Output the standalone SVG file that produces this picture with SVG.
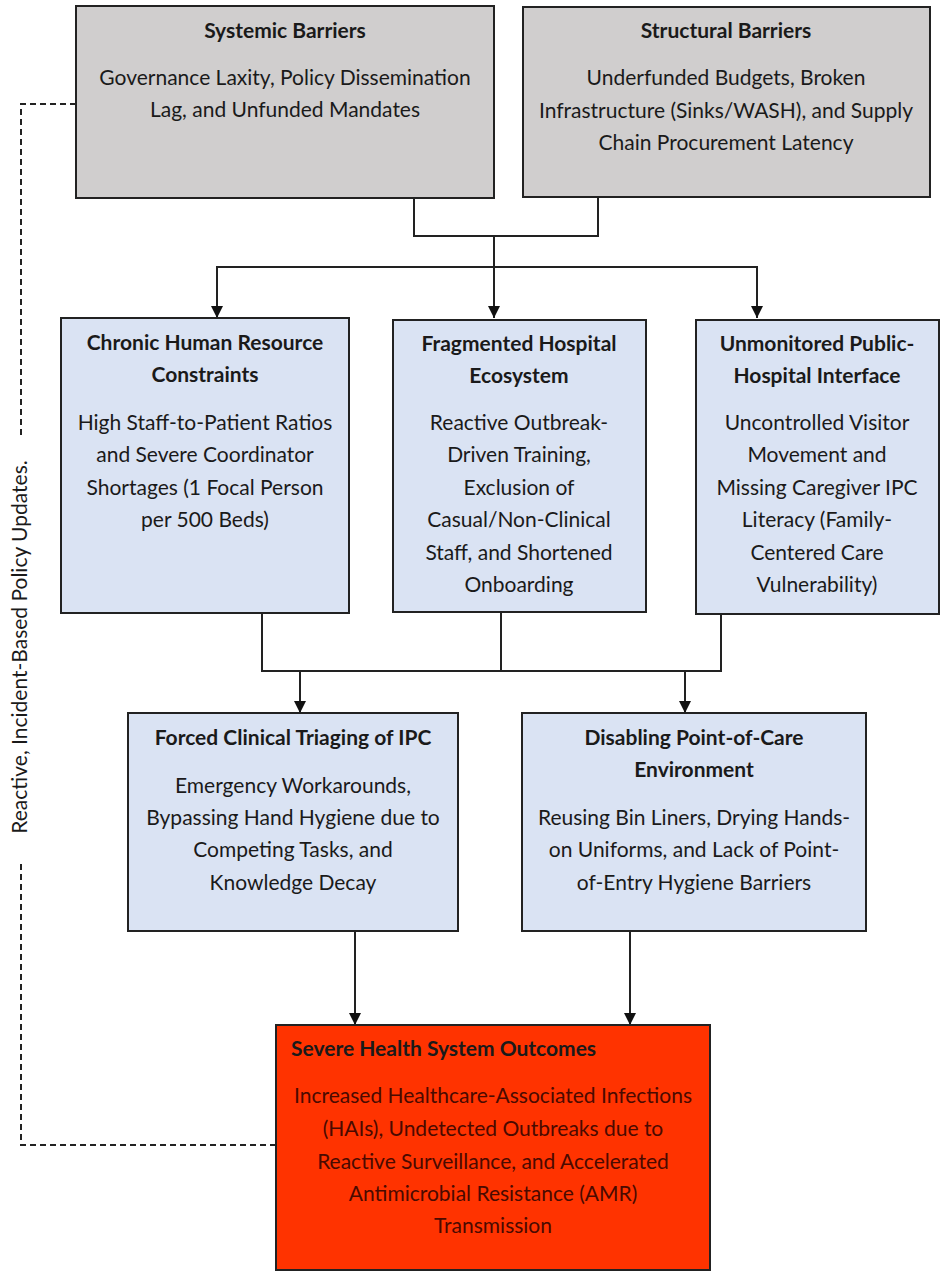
<svg xmlns="http://www.w3.org/2000/svg" width="945" height="1280" viewBox="0 0 945 1280">
<style>
.box{stroke:#222;stroke-width:2}
.grey{fill:#d0cece}
.blue{fill:#dae3f3}
.red{fill:#ff3300}
text{font-family:Lato,"Liberation Sans",sans-serif;font-size:21px;fill:#1a1a1a;text-anchor:middle;dominant-baseline:central}
.t{font-weight:bold}
.rt{fill:#4a0a00}
.ln{fill:none;stroke:#222;stroke-width:2}
.dash{fill:none;stroke:#222;stroke-width:2;stroke-dasharray:6 4}
</style>
<defs>
<marker id="ah" viewBox="0 0 10 10" refX="10" refY="5" markerWidth="6" markerHeight="6" orient="auto" markerUnits="strokeWidth">
<path d="M0,0 L10,5 L0,10 Z" fill="#111"/>
</marker>
</defs>
<g id="connectors">
<polyline class="ln" points="414,198 414,236 598,236 598,197"/>
<line class="ln" x1="494" y1="236" x2="494" y2="318" marker-end="url(#ah)"/>
<polyline class="ln" points="217,318 217,267 757,267 757,318" marker-end="url(#ah)"/>
<path class="ln" d="M217,267 L217,318" marker-end="url(#ah)"/>
<polyline class="ln" points="262,613 262,671 721,671 721,614"/>
<line class="ln" x1="501" y1="612" x2="501" y2="671"/>
<line class="ln" x1="300" y1="671" x2="300" y2="713" marker-end="url(#ah)"/>
<line class="ln" x1="685" y1="671" x2="685" y2="713" marker-end="url(#ah)"/>
<line class="ln" x1="355" y1="931" x2="355" y2="1025" marker-end="url(#ah)"/>
<line class="ln" x1="630" y1="931" x2="630" y2="1025" marker-end="url(#ah)"/>
<polyline class="dash" points="76,104 21,104 21,438"/>
<polyline class="dash" points="21,864 21,1145 276,1145"/>
<text x="18" y="647" transform="rotate(-90 18 647)">Reactive, Incident-Based Policy Updates.</text>
</g>
<g id="systemic">
<rect class="box grey" x="76" y="6" width="418" height="192"/>
<text class="t" x="285" y="29">Systemic Barriers</text>
<text x="285" y="76">Governance Laxity, Policy Dissemination</text>
<text x="285" y="108">Lag, and Unfunded Mandates</text>
</g>
<g id="structural">
<rect class="box grey" x="523" y="7" width="407" height="190"/>
<text class="t" x="726" y="29">Structural Barriers</text>
<text x="726" y="76">Underfunded Budgets, Broken</text>
<text x="726" y="109">Infrastructure (Sinks/WASH), and Supply</text>
<text x="726" y="141">Chain Procurement Latency</text>
</g>
<g id="chronic">
<rect class="box blue" x="61" y="318" width="288" height="295"/>
<text class="t" x="205" y="341">Chronic Human Resource</text>
<text class="t" x="205" y="373">Constraints</text>
<text x="205" y="421">High Staff-to-Patient Ratios</text>
<text x="205" y="453">and Severe Coordinator</text>
<text x="205" y="486">Shortages (1 Focal Person</text>
<text x="205" y="518">per 500 Beds)</text>
</g>
<g id="fragmented">
<rect class="box blue" x="393" y="320" width="253" height="292"/>
<text class="t" x="519" y="342">Fragmented Hospital</text>
<text class="t" x="519" y="374">Ecosystem</text>
<text x="519" y="421">Reactive Outbreak-</text>
<text x="519" y="453">Driven Training,</text>
<text x="519" y="486">Exclusion of</text>
<text x="519" y="518">Casual/Non-Clinical</text>
<text x="519" y="551">Staff, and Shortened</text>
<text x="519" y="583">Onboarding</text>
</g>
<g id="unmonitored">
<rect class="box blue" x="696" y="320" width="243" height="294"/>
<text class="t" x="817" y="342">Unmonitored Public-</text>
<text class="t" x="817" y="374">Hospital Interface</text>
<text x="817" y="421">Uncontrolled Visitor</text>
<text x="817" y="453">Movement and</text>
<text x="817" y="486">Missing Caregiver IPC</text>
<text x="817" y="518">Literacy (Family-</text>
<text x="817" y="551">Centered Care</text>
<text x="817" y="583">Vulnerability)</text>
</g>
<g id="forced">
<rect class="box blue" x="128" y="713" width="330" height="218"/>
<text class="t" x="293" y="736">Forced Clinical Triaging of IPC</text>
<text x="293" y="784">Emergency Workarounds,</text>
<text x="293" y="816">Bypassing Hand Hygiene due to</text>
<text x="293" y="848">Competing Tasks, and</text>
<text x="293" y="881">Knowledge Decay</text>
</g>
<g id="disabling">
<rect class="box blue" x="522" y="713" width="344" height="218"/>
<text class="t" x="694" y="736">Disabling Point-of-Care</text>
<text class="t" x="694" y="768">Environment</text>
<text x="694" y="816">Reusing Bin Liners, Drying Hands-</text>
<text x="694" y="848">on Uniforms, and Lack of Point-</text>
<text x="694" y="881">of-Entry Hygiene Barriers</text>
</g>
<g id="outcomes">
<rect class="box red" x="276" y="1025" width="434" height="245"/>
<text class="t" x="291" y="1047" style="text-anchor:start">Severe Health System Outcomes</text>
<text class="rt" x="493" y="1094">Increased Healthcare-Associated Infections</text>
<text class="rt" x="493" y="1127">(HAIs), Undetected Outbreaks due to</text>
<text class="rt" x="493" y="1160">Reactive Surveillance, and Accelerated</text>
<text class="rt" x="493" y="1192">Antimicrobial Resistance (AMR)</text>
<text class="rt" x="493" y="1224">Transmission</text>
</g>
</svg>
